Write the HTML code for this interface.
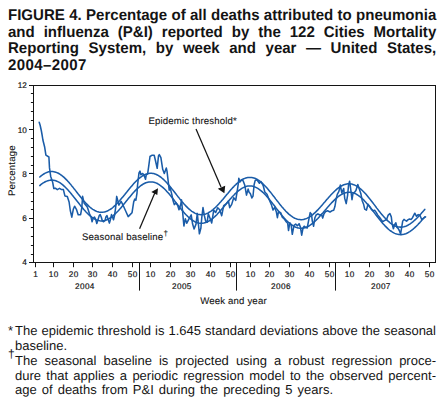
<!DOCTYPE html>
<html><head><meta charset="utf-8">
<style>
html,body{margin:0;padding:0;background:#fff;}
body{width:448px;height:412px;position:relative;overflow:hidden;text-rendering:geometricPrecision;font-family:"Liberation Sans",sans-serif;color:#141414;}
.t{position:absolute;left:8px;width:441.5px;font-weight:bold;font-size:15.5px;line-height:17px;text-align:justify;text-align-last:justify;transform:scaleX(0.97);transform-origin:0 0;}
.f{position:absolute;left:15px;font-size:13px;line-height:15px;text-align:justify;text-align-last:justify;}
svg{position:absolute;left:0;top:0;}
</style></head><body>
<div class="t" style="top:7px">FIGURE 4. Percentage of all deaths attributed to pneumonia</div>
<div class="t" style="top:23.5px">and influenza (P&amp;I) reported by the 122 Cities Mortality</div>
<div class="t" style="top:39.9px">Reporting System, by week and year — United States,</div>
<div class="t" style="top:57px;width:auto;text-align-last:left;letter-spacing:0.4px">2004–2007</div>
<svg width="448" height="412" viewBox="0 0 448 412">
<g fill="none" stroke="#141414" stroke-width="1">
<rect x="33.5" y="85.5" width="402.0" height="177.0"/>
<path d="M29.0 262.5H33.5 M30.9 254.5H33.5 M30.9 245.5H33.5 M30.9 236.5H33.5 M30.9 227.5H33.5 M29.0 218.5H33.5 M30.9 209.5H33.5 M30.9 201.5H33.5 M30.9 192.5H33.5 M30.9 183.5H33.5 M29.0 173.5H33.5 M30.9 165.5H33.5 M30.9 156.5H33.5 M30.9 147.5H33.5 M30.9 138.5H33.5 M29.0 129.5H33.5 M30.9 120.5H33.5 M30.9 111.5H33.5 M30.9 102.5H33.5 M30.9 93.5H33.5 M29.0 85.5H33.5 M35.5 262.5V267.2 M53.5 262.5V267.2 M73.5 262.5V267.2 M92.5 262.5V267.2 M112.5 262.5V267.2 M132.5 262.5V267.2 M150.5 262.5V267.2 M170.5 262.5V267.2 M190.5 262.5V267.2 M210.5 262.5V267.2 M230.5 262.5V267.2 M250.5 262.5V267.2 M269.5 262.5V267.2 M289.5 262.5V267.2 M309.5 262.5V267.2 M329.5 262.5V267.2 M349.5 262.5V267.2 M369.5 262.5V267.2 M389.5 262.5V267.2 M409.5 262.5V267.2 M429.5 262.5V267.2 M139.5 262.5V290.6 M236.5 262.5V290.6 M335.5 262.5V290.6"/>
</g>
<g font-family="Liberation Sans, sans-serif" font-size="8.2" fill="#141414" stroke="#141414" stroke-width="0.18">
<text x="35.8" y="277" text-anchor="middle" letter-spacing="0.4">1</text><text x="53.8" y="277" text-anchor="middle" letter-spacing="0.4">10</text><text x="73.8" y="277" text-anchor="middle" letter-spacing="0.4">20</text><text x="92.8" y="277" text-anchor="middle" letter-spacing="0.4">30</text><text x="112.8" y="277" text-anchor="middle" letter-spacing="0.4">40</text><text x="132.8" y="277" text-anchor="middle" letter-spacing="0.4">50</text><text x="150.8" y="277" text-anchor="middle" letter-spacing="0.4">10</text><text x="170.8" y="277" text-anchor="middle" letter-spacing="0.4">20</text><text x="190.8" y="277" text-anchor="middle" letter-spacing="0.4">30</text><text x="210.8" y="277" text-anchor="middle" letter-spacing="0.4">40</text><text x="230.8" y="277" text-anchor="middle" letter-spacing="0.4">50</text><text x="250.8" y="277" text-anchor="middle" letter-spacing="0.4">10</text><text x="269.8" y="277" text-anchor="middle" letter-spacing="0.4">20</text><text x="289.8" y="277" text-anchor="middle" letter-spacing="0.4">30</text><text x="309.8" y="277" text-anchor="middle" letter-spacing="0.4">40</text><text x="329.8" y="277" text-anchor="middle" letter-spacing="0.4">50</text><text x="349.8" y="277" text-anchor="middle" letter-spacing="0.4">10</text><text x="369.8" y="277" text-anchor="middle" letter-spacing="0.4">20</text><text x="389.8" y="277" text-anchor="middle" letter-spacing="0.4">30</text><text x="409.8" y="277" text-anchor="middle" letter-spacing="0.4">40</text><text x="429.8" y="277" text-anchor="middle" letter-spacing="0.4">50</text><text x="26.9" y="88.4" text-anchor="end">12</text><text x="26.9" y="132.7" text-anchor="end">10</text><text x="26.9" y="176.9" text-anchor="end">8</text><text x="26.9" y="221.2" text-anchor="end">6</text><text x="26.9" y="265.4" text-anchor="end">4</text><text x="84.9" y="289.1" text-anchor="middle" letter-spacing="0.4">2004</text><text x="181.9" y="289.1" text-anchor="middle" letter-spacing="0.4">2005</text><text x="281.0" y="289.1" text-anchor="middle" letter-spacing="0.4">2006</text><text x="380.9" y="289.1" text-anchor="middle" letter-spacing="0.4">2007</text>
</g>
<g fill="none" stroke="#1a5ca8" stroke-width="1.55" stroke-linejoin="round" stroke-linecap="round">
<path d="M39.8 177.0 L40.8 176.1 L41.8 175.3 L42.8 174.6 L43.8 174.0 L44.8 173.4 L45.8 172.9 L46.8 172.5 L47.8 172.1 L48.8 171.8 L49.8 171.7 L50.8 171.5 L51.8 171.5 L52.8 171.6 L53.8 171.7 L54.8 171.9 L55.8 172.2 L56.8 172.6 L57.8 173.0 L58.8 173.5 L59.8 174.1 L60.8 174.8 L61.8 175.5 L62.8 176.3 L63.8 177.2 L64.8 178.1 L65.8 179.1 L66.8 180.1 L67.8 181.2 L68.8 182.3 L69.8 183.5 L70.8 184.6 L71.8 185.9 L72.8 187.1 L73.8 188.4 L74.8 189.6 L75.8 190.9 L76.8 192.2 L77.8 193.5 L78.8 194.7 L79.8 196.0 L80.8 197.3 L81.8 198.5 L82.8 199.7 L83.8 200.9 L84.8 202.0 L85.8 203.1 L86.8 204.1 L87.8 205.1 L88.8 206.1 L89.8 207.0 L90.8 207.8 L91.8 208.6 L92.8 209.3 L93.8 209.9 L94.8 210.5 L95.8 211.0 L96.8 211.4 L97.8 211.7 L98.8 212.0 L99.8 212.2 L100.8 212.3 L101.8 212.3 L102.8 212.2 L103.8 212.1 L104.8 211.9 L105.8 211.6 L106.8 211.2 L107.8 210.8 L108.8 210.2 L109.8 209.6 L110.8 209.0 L111.8 208.3 L112.8 207.5 L113.8 206.6 L114.8 205.7 L115.8 204.7 L116.8 203.7 L117.8 202.7 L118.8 201.6 L119.8 200.5 L120.8 199.3 L121.8 198.1 L122.8 196.9 L123.8 195.7 L124.8 194.5 L125.8 193.2 L126.8 192.0 L127.8 190.7 L128.8 189.5 L129.8 188.3 L130.8 187.1 L131.8 185.9 L132.8 184.7 L133.8 183.6 L134.8 182.5 L135.8 181.5 L136.8 180.5 L137.8 179.6 L138.8 178.7 L139.8 177.9 L140.8 177.1 L141.8 176.4 L142.8 175.7 L143.8 175.2 L144.8 174.7 L145.8 174.2 L146.8 173.9 L147.8 173.6 L148.8 173.4 L149.8 173.3 L150.8 173.3 L151.8 173.3 L152.8 173.4 L153.8 173.6 L154.8 173.9 L155.8 174.3 L156.8 174.7 L157.8 175.2 L158.8 175.8 L159.8 176.5 L160.8 177.2 L161.8 178.0 L162.8 178.8 L163.8 179.7 L164.8 180.7 L165.8 181.7 L166.8 182.8 L167.8 183.9 L168.8 185.0 L169.8 186.2 L170.8 187.4 L171.8 188.7 L172.8 189.9 L173.8 191.2 L174.8 192.5 L175.8 193.8 L176.8 195.1 L177.8 196.4 L178.8 197.6 L179.8 198.9 L180.8 200.1 L181.8 201.4 L182.8 202.5 L183.8 203.7 L184.8 204.8 L185.8 205.9 L186.8 206.9 L187.8 207.9 L188.8 208.8 L189.8 209.7 L190.8 210.5 L191.8 211.3 L192.8 211.9 L193.8 212.5 L194.8 213.1 L195.8 213.6 L196.8 213.9 L197.8 214.3 L198.8 214.5 L199.8 214.6 L200.8 214.7 L201.8 214.7 L202.8 214.6 L203.8 214.5 L204.8 214.2 L205.8 213.9 L206.8 213.5 L207.8 213.1 L208.8 212.5 L209.8 211.9 L210.8 211.3 L211.8 210.5 L212.8 209.8 L213.8 208.9 L214.8 208.0 L215.8 207.1 L216.8 206.1 L217.8 205.0 L218.8 203.9 L219.8 202.8 L220.8 201.7 L221.8 200.5 L222.8 199.4 L223.8 198.2 L224.8 197.0 L225.8 195.8 L226.8 194.5 L227.8 193.4 L228.8 192.2 L229.8 191.0 L230.8 189.8 L231.8 188.7 L232.8 187.6 L233.8 186.6 L234.8 185.5 L235.8 184.6 L236.8 183.6 L237.8 182.8 L238.8 181.9 L239.8 181.2 L240.8 180.5 L241.8 179.8 L242.8 179.3 L243.8 178.8 L244.8 178.4 L245.8 178.0 L246.8 177.7 L247.8 177.5 L248.8 177.4 L249.8 177.4 L250.8 177.4 L251.8 177.5 L252.8 177.7 L253.8 178.0 L254.8 178.3 L255.8 178.8 L256.8 179.3 L257.8 179.8 L258.8 180.5 L259.8 181.2 L260.8 182.0 L261.8 182.8 L262.8 183.7 L263.8 184.7 L264.8 185.7 L265.8 186.7 L266.8 187.8 L267.8 189.0 L268.8 190.2 L269.8 191.4 L270.8 192.6 L271.8 193.9 L272.8 195.2 L273.8 196.4 L274.8 197.7 L275.8 199.1 L276.8 200.4 L277.8 201.6 L278.8 202.9 L279.8 204.2 L280.8 205.4 L281.8 206.7 L282.8 207.8 L283.8 209.0 L284.8 210.1 L285.8 211.2 L286.8 212.2 L287.8 213.1 L288.8 214.1 L289.8 214.9 L290.8 215.7 L291.8 216.4 L292.8 217.1 L293.8 217.7 L294.8 218.2 L295.8 218.6 L296.8 219.0 L297.8 219.3 L298.8 219.5 L299.8 219.6 L300.8 219.7 L301.8 219.7 L302.8 219.6 L303.8 219.4 L304.8 219.1 L305.8 218.8 L306.8 218.4 L307.8 217.9 L308.8 217.4 L309.8 216.8 L310.8 216.1 L311.8 215.4 L312.8 214.6 L313.8 213.7 L314.8 212.8 L315.8 211.9 L316.8 210.9 L317.8 209.9 L318.8 208.8 L319.8 207.7 L320.8 206.6 L321.8 205.4 L322.8 204.3 L323.8 203.1 L324.8 202.0 L325.8 200.8 L326.8 199.6 L327.8 198.5 L328.8 197.3 L329.8 196.2 L330.8 195.1 L331.8 194.0 L332.8 193.0 L333.8 192.0 L334.8 191.0 L335.8 190.1 L336.8 189.2 L337.8 188.4 L338.8 187.6 L339.8 186.9 L340.8 186.3 L341.8 185.7 L342.8 185.2 L343.8 184.8 L344.8 184.5 L345.8 184.2 L346.8 184.0 L347.8 183.8 L348.8 183.8 L349.8 183.8 L350.8 183.9 L351.8 184.1 L352.8 184.4 L353.8 184.7 L354.8 185.1 L355.8 185.6 L356.8 186.2 L357.8 186.8 L358.8 187.5 L359.8 188.3 L360.8 189.1 L361.8 190.0 L362.8 191.0 L363.8 192.0 L364.8 193.0 L365.8 194.1 L366.8 195.3 L367.8 196.5 L368.8 197.7 L369.8 198.9 L370.8 200.2 L371.8 201.5 L372.8 202.8 L373.8 204.1 L374.8 205.4 L375.8 206.7 L376.8 208.1 L377.8 209.4 L378.8 210.7 L379.8 211.9 L380.8 213.2 L381.8 214.4 L382.8 215.6 L383.8 216.7 L384.8 217.8 L385.8 218.9 L386.8 219.9 L387.8 220.9 L388.8 221.7 L389.8 222.6 L390.8 223.4 L391.8 224.1 L392.8 224.7 L393.8 225.3 L394.8 225.8 L395.8 226.2 L396.8 226.5 L397.8 226.8 L398.8 227.0 L399.8 227.1 L400.8 227.1 L401.8 227.1 L402.8 227.0 L403.8 226.8 L404.8 226.5 L405.8 226.2 L406.8 225.8 L407.8 225.3 L408.8 224.7 L409.8 224.1 L410.8 223.4 L411.8 222.7 L412.8 221.9 L413.8 221.0 L414.8 220.1 L415.8 219.2 L416.8 218.2 L417.8 217.2 L418.8 216.1 L419.8 215.1 L420.8 214.0 L421.8 212.8 L422.8 211.7 L423.8 210.6 L424.8 209.4"/>
<path d="M39.8 185.6 L40.8 184.7 L41.8 183.9 L42.8 183.2 L43.8 182.6 L44.8 182.0 L45.8 181.5 L46.8 181.1 L47.8 180.7 L48.8 180.4 L49.8 180.3 L50.8 180.1 L51.8 180.1 L52.8 180.2 L53.8 180.3 L54.8 180.5 L55.8 180.8 L56.8 181.2 L57.8 181.6 L58.8 182.1 L59.8 182.7 L60.8 183.4 L61.8 184.1 L62.8 184.9 L63.8 185.8 L64.8 186.7 L65.8 187.7 L66.8 188.7 L67.8 189.8 L68.8 190.9 L69.8 192.1 L70.8 193.2 L71.8 194.5 L72.8 195.7 L73.8 197.0 L74.8 198.2 L75.8 199.5 L76.8 200.8 L77.8 202.1 L78.8 203.3 L79.8 204.6 L80.8 205.9 L81.8 207.1 L82.8 208.3 L83.8 209.5 L84.8 210.6 L85.8 211.7 L86.8 212.7 L87.8 213.7 L88.8 214.7 L89.8 215.6 L90.8 216.4 L91.8 217.2 L92.8 217.9 L93.8 218.5 L94.8 219.1 L95.8 219.6 L96.8 220.0 L97.8 220.3 L98.8 220.6 L99.8 220.8 L100.8 220.9 L101.8 220.9 L102.8 220.8 L103.8 220.7 L104.8 220.5 L105.8 220.2 L106.8 219.8 L107.8 219.4 L108.8 218.8 L109.8 218.2 L110.8 217.6 L111.8 216.9 L112.8 216.1 L113.8 215.2 L114.8 214.3 L115.8 213.3 L116.8 212.3 L117.8 211.3 L118.8 210.2 L119.8 209.1 L120.8 207.9 L121.8 206.7 L122.8 205.5 L123.8 204.3 L124.8 203.1 L125.8 201.8 L126.8 200.6 L127.8 199.3 L128.8 198.1 L129.8 196.9 L130.8 195.7 L131.8 194.5 L132.8 193.3 L133.8 192.2 L134.8 191.1 L135.8 190.1 L136.8 189.1 L137.8 188.2 L138.8 187.3 L139.8 186.5 L140.8 185.7 L141.8 185.0 L142.8 184.3 L143.8 183.8 L144.8 183.3 L145.8 182.8 L146.8 182.5 L147.8 182.2 L148.8 182.0 L149.8 181.9 L150.8 181.9 L151.8 181.9 L152.8 182.0 L153.8 182.2 L154.8 182.5 L155.8 182.9 L156.8 183.3 L157.8 183.8 L158.8 184.4 L159.8 185.1 L160.8 185.8 L161.8 186.6 L162.8 187.4 L163.8 188.3 L164.8 189.3 L165.8 190.3 L166.8 191.4 L167.8 192.5 L168.8 193.6 L169.8 194.8 L170.8 196.0 L171.8 197.3 L172.8 198.5 L173.8 199.8 L174.8 201.1 L175.8 202.4 L176.8 203.7 L177.8 205.0 L178.8 206.2 L179.8 207.5 L180.8 208.7 L181.8 210.0 L182.8 211.1 L183.8 212.3 L184.8 213.4 L185.8 214.5 L186.8 215.5 L187.8 216.5 L188.8 217.4 L189.8 218.3 L190.8 219.1 L191.8 219.9 L192.8 220.5 L193.8 221.1 L194.8 221.7 L195.8 222.2 L196.8 222.5 L197.8 222.9 L198.8 223.1 L199.8 223.2 L200.8 223.3 L201.8 223.3 L202.8 223.2 L203.8 223.1 L204.8 222.8 L205.8 222.5 L206.8 222.1 L207.8 221.7 L208.8 221.1 L209.8 220.5 L210.8 219.9 L211.8 219.1 L212.8 218.4 L213.8 217.5 L214.8 216.6 L215.8 215.7 L216.8 214.7 L217.8 213.6 L218.8 212.5 L219.8 211.4 L220.8 210.3 L221.8 209.1 L222.8 208.0 L223.8 206.8 L224.8 205.6 L225.8 204.4 L226.8 203.1 L227.8 202.0 L228.8 200.8 L229.8 199.6 L230.8 198.4 L231.8 197.3 L232.8 196.2 L233.8 195.2 L234.8 194.1 L235.8 193.2 L236.8 192.2 L237.8 191.4 L238.8 190.5 L239.8 189.8 L240.8 189.1 L241.8 188.4 L242.8 187.9 L243.8 187.4 L244.8 187.0 L245.8 186.6 L246.8 186.3 L247.8 186.1 L248.8 186.0 L249.8 186.0 L250.8 186.0 L251.8 186.1 L252.8 186.3 L253.8 186.6 L254.8 186.9 L255.8 187.4 L256.8 187.9 L257.8 188.4 L258.8 189.1 L259.8 189.8 L260.8 190.6 L261.8 191.4 L262.8 192.3 L263.8 193.3 L264.8 194.3 L265.8 195.3 L266.8 196.4 L267.8 197.6 L268.8 198.8 L269.8 200.0 L270.8 201.2 L271.8 202.5 L272.8 203.8 L273.8 205.0 L274.8 206.3 L275.8 207.7 L276.8 209.0 L277.8 210.2 L278.8 211.5 L279.8 212.8 L280.8 214.0 L281.8 215.3 L282.8 216.4 L283.8 217.6 L284.8 218.7 L285.8 219.8 L286.8 220.8 L287.8 221.7 L288.8 222.7 L289.8 223.5 L290.8 224.3 L291.8 225.0 L292.8 225.7 L293.8 226.3 L294.8 226.8 L295.8 227.2 L296.8 227.6 L297.8 227.9 L298.8 228.1 L299.8 228.2 L300.8 228.3 L301.8 228.3 L302.8 228.2 L303.8 228.0 L304.8 227.7 L305.8 227.4 L306.8 227.0 L307.8 226.5 L308.8 226.0 L309.8 225.4 L310.8 224.7 L311.8 224.0 L312.8 223.2 L313.8 222.3 L314.8 221.4 L315.8 220.5 L316.8 219.5 L317.8 218.5 L318.8 217.4 L319.8 216.3 L320.8 215.2 L321.8 214.0 L322.8 212.9 L323.8 211.7 L324.8 210.6 L325.8 209.4 L326.8 208.2 L327.8 207.1 L328.8 205.9 L329.8 204.8 L330.8 203.7 L331.8 202.6 L332.8 201.6 L333.8 200.6 L334.8 199.6 L335.8 198.7 L336.8 197.8 L337.8 197.0 L338.8 196.2 L339.8 195.5 L340.8 194.9 L341.8 194.3 L342.8 193.8 L343.8 193.3 L344.8 193.0 L345.8 192.7 L346.8 192.4 L347.8 192.3 L348.8 192.2 L349.8 192.2 L350.8 192.3 L351.8 192.5 L352.8 192.7 L353.8 193.1 L354.8 193.4 L355.8 193.9 L356.8 194.5 L357.8 195.1 L358.8 195.8 L359.8 196.5 L360.8 197.3 L361.8 198.2 L362.8 199.2 L363.8 200.1 L364.8 201.2 L365.8 202.3 L366.8 203.4 L367.8 204.6 L368.8 205.8 L369.8 207.0 L370.8 208.2 L371.8 209.5 L372.8 210.8 L373.8 212.1 L374.8 213.4 L375.8 214.7 L376.8 216.0 L377.8 217.3 L378.8 218.5 L379.8 219.8 L380.8 221.0 L381.8 222.2 L382.8 223.4 L383.8 224.5 L384.8 225.6 L385.8 226.6 L386.8 227.6 L387.8 228.6 L388.8 229.5 L389.8 230.3 L390.8 231.0 L391.8 231.7 L392.8 232.3 L393.8 232.9 L394.8 233.4 L395.8 233.8 L396.8 234.1 L397.8 234.3 L398.8 234.5 L399.8 234.6 L400.8 234.6 L401.8 234.6 L402.8 234.5 L403.8 234.3 L404.8 234.0 L405.8 233.7 L406.8 233.3 L407.8 232.8 L408.8 232.2 L409.8 231.6 L410.8 230.9 L411.8 230.2 L412.8 229.4 L413.8 228.5 L414.8 227.6 L415.8 226.7 L416.8 225.7 L417.8 224.7 L418.8 223.6 L419.8 222.6 L420.8 221.5 L421.8 220.3 L422.8 219.2 L423.8 218.1 L424.8 216.9"/>
<path d="M39.2 122.2 L40.2 125.5 L41.3 130.5 L42.1 135.0 L42.9 140.0 L44.7 147.3 L45.9 155.2 L48.9 157.0 L49.5 167.9 L50.7 176.4 L52.6 181.9 L53.8 188.5 L55.4 188.2 L57.3 189.6 L59.5 188.4 L61.2 189.4 L63.4 189.6 L64.9 195.9 L67.3 196.5 L69.1 202.0 L70.3 210.5 L71.8 217.2 L73.3 209.3 L74.6 206.2 L76.4 209.3 L78.2 214.7 L80.6 214.7 L81.8 208.0 L82.6 196.3 L84.2 203.3 L87.3 207.0 L89.4 213.6 L91.1 217.3 L92.1 221.8 L93.1 218.4 L94.5 217.0 L95.8 219.7 L96.8 223.5 L98.2 219.0 L99.2 215.6 L100.2 214.6 L101.3 217.3 L102.3 220.7 L103.6 221.8 L105.0 220.4 L106.0 216.7 L107.0 215.6 L108.0 219.0 L109.4 223.1 L110.4 219.7 L111.5 214.6 L112.5 217.0 L113.5 219.7 L114.5 215.6 L115.6 208.2 L116.7 196.4 L118.9 205.1 L121.1 201.3 L123.3 205.7 L126.0 211.7 L128.2 216.6 L130.4 214.4 L132.0 212.8 L133.7 201.9 L134.8 199.1 L135.9 200.2 L137.0 193.1 L137.5 185.5 L139.0 172.9 L140.0 171.1 L140.9 174.7 L142.7 173.5 L143.9 174.7 L145.5 179.3 L146.3 174.7 L147.6 174.1 L148.8 165.6 L150.0 156.5 L151.8 155.3 L154.2 155.3 L155.5 160.8 L157.2 168.3 L158.5 155.9 L159.3 154.6 L160.9 157.7 L162.7 169.3 L164.3 173.5 L166.3 168.0 L167.0 171.1 L168.2 181.4 L169.2 190.2 L170.1 187.6 L171.8 194.4 L173.1 200.8 L174.3 204.6 L176.0 202.9 L177.7 205.5 L179.0 209.7 L180.7 204.6 L181.5 199.9 L182.4 209.6 L183.9 226.0 L185.3 218.8 L186.8 223.2 L188.7 219.3 L191.2 214.9 L192.6 224.1 L194.1 229.0 L196.0 224.1 L197.3 213.4 L198.4 224.1 L199.4 233.8 L200.9 228.0 L201.8 217.3 L203.0 207.6 L204.3 215.4 L205.7 221.2 L207.2 222.2 L208.3 213.7 L210.3 219.0 L211.7 223.0 L213.7 210.4 L215.7 212.4 L217.7 207.7 L219.7 209.7 L221.7 215.7 L223.7 205.7 L226.4 203.7 L228.4 201.0 L229.7 207.7 L231.7 204.4 L233.7 197.7 L235.7 200.4 L237.0 192.4 L238.4 183.0 L238.8 178.2 L239.9 182.0 L241.6 179.8 L243.2 180.9 L244.8 185.3 L246.5 195.1 L248.1 189.1 L249.2 192.4 L250.3 193.5 L251.9 197.9 L253.0 196.2 L254.1 184.8 L255.2 180.4 L256.9 179.8 L259.4 183.3 L261.0 181.6 L263.2 185.5 L264.8 192.0 L267.0 194.2 L269.2 199.7 L271.4 204.6 L273.0 210.0 L274.7 207.3 L276.3 211.7 L277.4 217.7 L278.5 211.7 L280.7 212.8 L282.3 217.2 L284.5 219.3 L286.4 222.0 L287.7 223.3 L288.5 230.5 L289.8 222.8 L291.1 224.5 L292.3 234.3 L294.0 225.4 L295.7 224.1 L297.4 225.8 L299.1 223.7 L300.4 227.1 L301.7 235.2 L303.0 228.0 L304.2 226.2 L305.9 227.5 L307.2 228.0 L308.5 221.1 L310.2 212.6 L311.5 214.3 L312.3 221.1 L313.6 226.2 L314.9 217.7 L316.1 215.0 L317.9 213.8 L319.7 215.0 L321.5 214.4 L322.7 218.1 L324.0 213.8 L325.8 211.4 L327.6 210.8 L330.0 212.0 L331.8 210.8 L333.7 210.2 L334.9 206.6 L336.1 199.3 L337.3 194.4 L338.9 191.4 L340.3 185.1 L341.8 192.9 L343.7 188.5 L344.7 198.2 L346.2 203.6 L347.6 195.3 L348.6 184.6 L349.6 181.2 L350.5 187.5 L352.0 199.7 L353.0 193.4 L354.4 192.4 L355.9 190.5 L357.8 184.6 L359.3 189.0 L360.8 193.4 L362.2 200.7 L363.6 204.2 L364.7 209.1 L366.4 210.2 L368.0 204.2 L369.7 206.4 L371.3 209.1 L372.9 210.8 L374.6 210.2 L376.2 212.4 L377.8 215.1 L379.5 217.3 L381.1 219.5 L382.8 221.7 L384.4 220.6 L386.6 219.5 L388.2 215.1 L389.9 213.5 L391.3 216.9 L392.1 223.7 L393.4 228.8 L394.7 224.5 L395.9 222.8 L396.8 227.1 L398.1 228.4 L399.3 230.5 L400.6 233.9 L401.9 226.2 L402.7 221.1 L404.0 219.4 L405.3 220.3 L406.6 221.1 L407.8 219.9 L409.5 219.0 L411.2 219.4 L412.5 217.7 L413.8 215.2 L414.8 213.2 L416.5 216.3 L418.2 214.6 L419.9 215.3 L421.6 219.3 L425.6 216.9"/>
</g>
<g font-family="Liberation Sans, sans-serif" font-size="9.6" fill="#141414" letter-spacing="0.17" stroke="#141414" stroke-width="0.1">
<text x="148.4" y="124.2">Epidemic threshold*</text>
<text x="82" y="240.2">Seasonal baseline</text>
<text x="163.6" y="236" font-size="8">†</text>
<text x="200.2" y="303.8">Week and year</text>
<text transform="translate(14.6 196.1) rotate(-90)">Percentage</text>
</g>
<g stroke="#141414" stroke-width="1.25" fill="#141414">
<path d="M196 129 L221 187"/>
<path d="M224.4 193.2 L217.8 188.8 L225.2 185.8 Z" stroke="none"/>
<path d="M139.6 228.7 L155 192.5"/>
<path d="M158 188.3 L151.3 192 L157.3 195 Z" stroke="none"/>
</g>
</svg>
<div class="f" style="top:323px;width:421px">The epidemic threshold is 1.645 standard deviations above the seasonal</div>
<div class="f" style="top:338px;text-align-last:left">baseline.</div>
<div class="f" style="top:353px;width:421px">The seasonal baseline is projected using a robust regression proce-</div>
<div class="f" style="top:368px;width:421px">dure that applies a periodic regression model to the observed percent-</div>
<div class="f" style="top:382px;width:318px">age of deaths from P&amp;I during the preceding 5 years.</div>
<div style="position:absolute;left:8px;top:324px;font-size:13px;line-height:13px">*</div>
<div style="position:absolute;left:8px;top:348px;font-size:12px;line-height:12px">†</div>
</body></html>
